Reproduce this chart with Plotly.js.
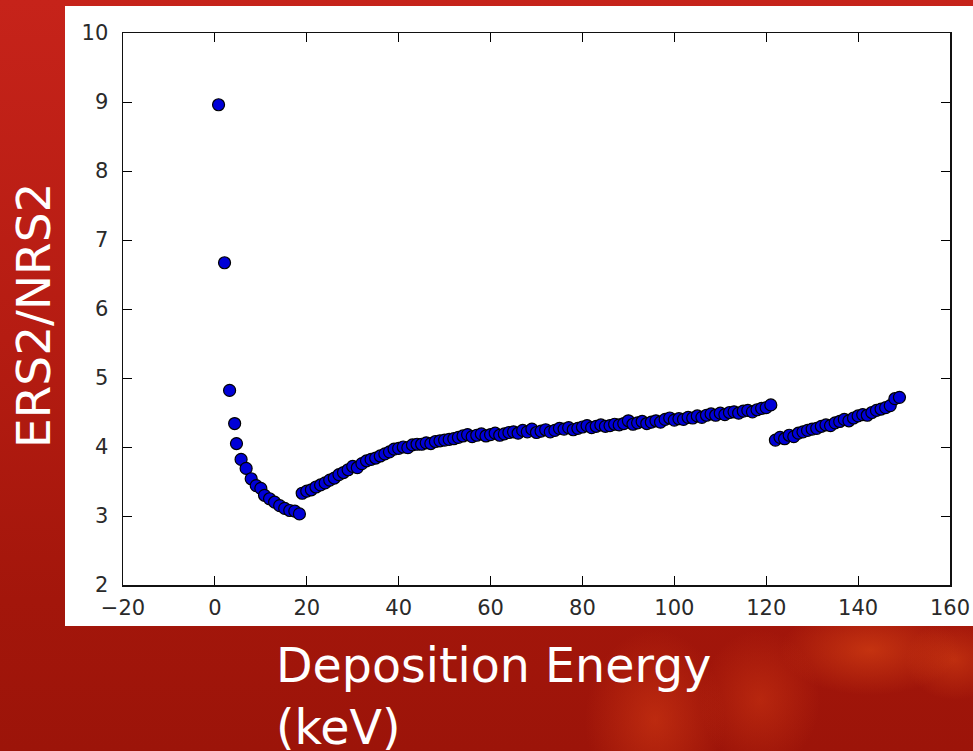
<!DOCTYPE html>
<html>
<head>
<meta charset="utf-8">
<script src="https://cdn.plot.ly/plotly-3.0.1.min.js"></script>
<style>
  html, body { margin: 0; padding: 0; width: 973px; height: 751px; overflow: hidden; }
  body {
    background:
      radial-gradient(ellipse 70px 90px at 655px 720px, rgba(214,60,20,0.55), rgba(214,60,20,0) 100%),
      radial-gradient(ellipse 60px 70px at 760px 700px, rgba(214,60,20,0.45), rgba(214,60,20,0) 100%),
      radial-gradient(ellipse 90px 45px at 870px 650px, rgba(220,70,20,0.6), rgba(220,70,20,0) 100%),
      radial-gradient(ellipse 50px 40px at 955px 660px, rgba(220,70,20,0.5), rgba(220,70,20,0) 100%),
      linear-gradient(180deg, #c6231a 0%, #b51c12 45%, #a3160b 80%, #9c1409 100%);
  }
  #chart { width: 973px; height: 751px; }
</style>
</head>
<body>
<div id="chart"></div>
<script>
// Segment 1: low energy (keV) and ERS2/NRS2 ratio
const lowEnergy = [0.8, 2.1, 3.2, 4.3, 4.7, 5.7, 6.8, 7.9, 9.0, 10.0, 10.8, 11.9, 13.0, 14.1, 15.2, 16.3, 17.4, 18.4];
const lowRatio  = [8.96, 6.67, 4.82, 4.34, 4.05, 3.82, 3.69, 3.54, 3.44, 3.40, 3.30, 3.25, 3.20, 3.15, 3.11, 3.08, 3.07, 3.03];

// Segment 2: mid energy
const midEnergy = [19, 20, 21, 22, 23, 24, 25, 26, 27, 28, 29, 30, 31, 32, 33, 34, 35, 36, 37, 38,
  39, 40, 41, 42, 43, 44, 45, 46, 47, 48, 49, 50, 51, 52, 53, 54, 55, 56, 57, 58,
  59, 60, 61, 62, 63, 64, 65, 66, 67, 68, 69, 70, 71, 72, 73, 74, 75, 76, 77, 78,
  79, 80, 81, 82, 83, 84, 85, 86, 87, 88, 89, 90, 91, 92, 93, 94, 95, 96, 97, 98,
  99, 100, 101, 102, 103, 104, 105, 106, 107, 108, 109, 110, 111, 112, 113, 114, 115, 116, 117, 118,
  119, 120, 121];
const midRatio = [3.33, 3.36, 3.38, 3.42, 3.45, 3.48, 3.52, 3.55, 3.60, 3.63, 3.67, 3.72, 3.70, 3.76, 3.80, 3.82, 3.84, 3.87, 3.90, 3.93,
  3.97, 3.98, 4.00, 3.99, 4.03, 4.04, 4.04, 4.06, 4.05, 4.08, 4.09, 4.10, 4.11, 4.12, 4.14, 4.16, 4.18, 4.15, 4.17, 4.19,
  4.16, 4.18, 4.20, 4.17, 4.19, 4.21, 4.22, 4.20, 4.24, 4.22, 4.26, 4.21, 4.23, 4.25, 4.22, 4.24, 4.27, 4.26, 4.28, 4.25,
  4.27, 4.29, 4.31, 4.28, 4.30, 4.32, 4.30, 4.31, 4.33, 4.32, 4.34, 4.38, 4.33, 4.35, 4.37, 4.34, 4.36, 4.38, 4.36, 4.40,
  4.42, 4.39, 4.41, 4.40, 4.43, 4.42, 4.45, 4.43, 4.46, 4.48, 4.46, 4.49, 4.47, 4.50, 4.51, 4.49, 4.52, 4.53, 4.51, 4.54,
  4.56, 4.57, 4.61];

// Segment 3: high energy
const highEnergy = [122, 123, 124, 125, 126, 127, 128, 129, 130, 131, 132, 133, 134, 135, 136, 137, 138, 139, 140, 141,
  142, 143, 144, 145, 146, 147, 148, 149];
const highRatio = [4.10, 4.14, 4.12, 4.17, 4.15, 4.20, 4.22, 4.24, 4.26, 4.27, 4.30, 4.32, 4.31, 4.35, 4.37, 4.40, 4.38, 4.42, 4.45, 4.47,
  4.46, 4.50, 4.53, 4.55, 4.57, 4.60, 4.70, 4.72];

const xTickVals = [-20, 0, 20, 40, 60, 80, 100, 120, 140, 160];
const yTickVals = [2, 3, 4, 5, 6, 7, 8, 9, 10];
const xTitle = 'Deposition Energy<br>(keV)';
const yTitle = 'ERS2/NRS2';

const energy = lowEnergy.concat(midEnergy, highEnergy);
const ratio = lowRatio.concat(midRatio, highRatio);

const tickFont = { family: 'DejaVu Sans, sans-serif', size: 21, color: '#2a2a2a' };
const yTitleFont = { family: 'DejaVu Sans, sans-serif', size: 47, color: '#ffffff' };
const xTitleFont = { family: 'DejaVu Sans, sans-serif', size: 47.5, color: '#ffffff' };

const trace = {
  x: energy,
  y: ratio,
  type: 'scatter',
  mode: 'markers',
  marker: { color: '#0000d8', size: 12, line: { color: '#000000', width: 1.2 } },
  hoverinfo: 'x+y'
};

const ML = 123, MT = 33, PW = 827, PH = 552;
const px2paperX = p => (p - ML) / PW;
const px2paperY = p => (MT + PH - p) / PH;

const layout = {
  width: 973,
  height: 751,
  margin: { l: ML, r: 973 - ML - PW, t: MT, b: 751 - MT - PH, pad: 0 },
  paper_bgcolor: 'rgba(0,0,0,0)',
  plot_bgcolor: '#ffffff',
  showlegend: false,
  xaxis: {
    range: [-20, 160],
    tickvals: xTickVals,
    ticks: 'inside',
    ticklen: 9,
    tickwidth: 1,
    tickcolor: '#000',
    showline: true,
    linecolor: '#111',
    linewidth: 1.5,
    mirror: 'allticks',
    showgrid: false,
    zeroline: false,
    tickfont: tickFont,
    ticklabelstandoff: 3
  },
  yaxis: {
    range: [2, 10],
    tickvals: yTickVals,
    ticks: 'inside',
    ticklen: 9,
    tickwidth: 1,
    tickcolor: '#000',
    showline: true,
    linecolor: '#111',
    linewidth: 1.5,
    mirror: 'allticks',
    showgrid: false,
    zeroline: false,
    tickfont: tickFont,
    ticklabelstandoff: 9
  },
  shapes: [{
    type: 'rect', xref: 'paper', yref: 'paper', layer: 'below',
    x0: px2paperX(65), x1: px2paperX(975), y0: px2paperY(626), y1: px2paperY(6),
    fillcolor: '#ffffff', line: { width: 0 }
  }],
  annotations: [
    {
      text: yTitle, xref: 'paper', yref: 'paper',
      x: px2paperX(34), y: px2paperY(316), xanchor: 'center', yanchor: 'middle',
      textangle: -90, showarrow: false, font: yTitleFont
    },
    {
      text: xTitle, xref: 'paper', yref: 'paper',
      x: px2paperX(274), y: px2paperY(636), xanchor: 'left', yanchor: 'top',
      align: 'left', showarrow: false, font: xTitleFont
    }
  ]
};

Plotly.newPlot('chart', [trace], layout, { displayModeBar: false, staticPlot: true });
</script>
</body>
</html>
